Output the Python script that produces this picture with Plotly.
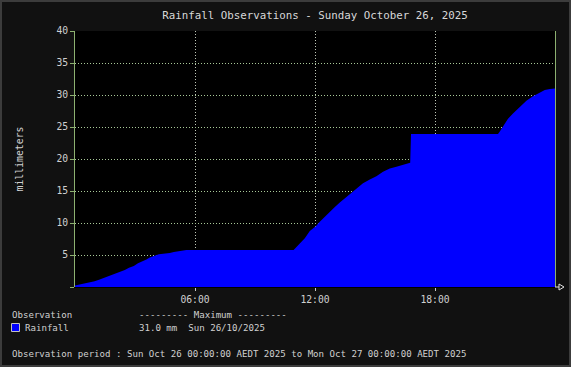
import plotly.graph_objects as go
from datetime import datetime, timedelta

# Data (hours since midnight, cumulative mm)
hours = [0.0, 0.23, 0.49, 0.73, 0.98, 1.2, 1.57, 1.95, 2.24, 2.49, 2.7, 2.94,
         3.15, 3.37, 3.57, 3.74, 3.99, 4.19, 4.74, 4.94, 5.57, 10.93, 11.24,
         11.49, 11.74, 12.04, 12.24, 12.49, 12.74, 12.98, 13.24, 13.49, 13.74,
         14.07, 14.4, 14.74, 15.07, 15.4, 15.74, 16.07, 16.4, 16.76, 16.8,
         21.15, 21.24, 21.4, 21.65, 21.9, 22.24, 22.57, 22.9, 23.24, 23.49,
         23.74, 24.0]
rain_mm = [0.25, 0.4, 0.6, 0.7, 0.9, 1.15, 1.56, 2.0, 2.34, 2.66, 3.0, 3.3,
           3.7, 3.95, 4.3, 4.6, 4.85, 5.1, 5.3, 5.45, 5.8, 5.8, 6.8,
           7.6, 8.75, 9.5, 10.2, 11.0, 11.7, 12.45, 13.2, 13.85, 14.5,
           15.4, 16.2, 16.8, 17.3, 18.0, 18.5, 18.8, 19.1, 19.4, 23.9,
           23.9, 24.3, 25.05, 26.3, 27.1, 28.2, 29.1, 29.8, 30.4, 30.8,
           30.95, 31.0]
y_ticks = [0, 5, 10, 15, 20, 25, 30, 35, 40]
y_tick_labels = ["", "5", "10", "15", "20", "25", "30", "35", "40"]
x_tick_labels = ["06:00", "12:00", "18:00"]
title_text = "Rainfall Observations - Sunday October 26, 2025"
series_name = "Rainfall"
max_text = "31.0 mm  Sun 26/10/2025"
period_text = "Observation period : Sun Oct 26 00:00:00 AEDT 2025 to Mon Oct 27 00:00:00 AEDT 2025"

start = datetime(2025, 10, 26, 0, 0)
times = [start + timedelta(hours=h) for h in hours]
x_tick_vals = [start + timedelta(hours=6 * (i + 1)) for i in range(3)]

W, H = 571, 367
L, R, T, B = 75, 16, 31, 80
PW, PH = W - L - R, H - T - B
FONT = "DejaVu Sans Mono"
TXT = "#d0d0d0"


def px(x):
    return (x - L) / PW


def py(y):
    return (H - B - y) / PH


fig = go.Figure()
fig.add_trace(go.Scatter(
    x=times, y=rain_mm, mode="lines", fill="tozeroy",
    line=dict(color="#0000ff", width=0), fillcolor="#0000ff",
    name=series_name, showlegend=False, hoverinfo="x+y",
))

fig.update_layout(
    width=W, height=H, autosize=False,
    margin=dict(l=L, r=R, t=T, b=B, pad=0),
    paper_bgcolor="#111111", plot_bgcolor="#000000",
    font=dict(family=FONT, color=TXT, size=9.7),
    title=dict(text=title_text, x=0.5, xref="paper", xanchor="center",
               y=1 - 15 / H, yref="container", yanchor="middle",
               font=dict(family=FONT, size=10.8, color="#d8d8d8")),
    showlegend=False,
)

fig.update_xaxes(
    range=[start, start + timedelta(hours=24)],
    tickvals=x_tick_vals, ticktext=x_tick_labels,
    showgrid=True, gridcolor="#c0c8b8", griddash="1px,2px", gridwidth=1,
    ticks="outside", ticklen=3, tickcolor="#c8c8c8", tickwidth=1,
    showline=True, linecolor="#000000", linewidth=1,
    zeroline=False, tickfont=dict(size=9.7, color=TXT, family=FONT),
    fixedrange=True,
)
fig.update_yaxes(
    range=[0, 40], tickvals=y_ticks, ticktext=y_tick_labels,
    showgrid=True, gridcolor="#a8c898", griddash="1px,2px", gridwidth=1,
    ticks="outside", ticklen=4, tickcolor="#8cb070", tickwidth=1,
    showline=True, linecolor="#8cb070", linewidth=1, mirror=True,
    zeroline=False, tickfont=dict(size=9.7, color=TXT, family=FONT),
    title=dict(text="millimeters", standoff=30,
               font=dict(size=9.8, color=TXT, family=FONT)),
    fixedrange=True,
)

shapes = [
    # outer frame
    dict(type="rect", xref="paper", yref="paper",
         x0=px(1), x1=px(W - 1), y0=py(H - 1), y1=py(1),
         line=dict(color="#3c3c3c", width=2), layer="below"),
    # arrow at end of x axis
    dict(type="line", xref="paper", yref="paper",
         x0=px(555), x1=px(559), y0=py(287), y1=py(287),
         line=dict(color="#e0e0e0", width=1)),
    dict(type="path", xref="paper", yref="paper",
         path=f"M {px(559)} {py(284)} L {px(564)} {py(287)} L {px(559)} {py(290)} Z",
         line=dict(color="#e0e0e0", width=1), fillcolor="rgba(0,0,0,0)"),
    # legend colour box
    dict(type="rect", xref="paper", yref="paper",
         x0=px(11.5), x1=px(19.5), y0=py(331.5), y1=py(323.5),
         line=dict(color="#c0c0c0", width=1), fillcolor="#0000ff"),
]
fig.update_layout(shapes=shapes)


def label(text, x, y):
    return dict(text=text, xref="paper", yref="paper", x=px(x), y=py(y),
                xanchor="left", yanchor="middle", showarrow=False,
                font=dict(family=FONT, size=9.1, color=TXT))


fig.update_layout(annotations=[
    label("Observation", 10, 315),
    label("--------- Maximum ---------", 137, 315),
    label(series_name, 23, 327.5),
    label(max_text, 137, 327.5),
    label(period_text, 10, 353.5),
])

fig.write_html(
    "out.html",
    config={"displayModeBar": False, "staticPlot": False},
    post_script="document.body.style.margin='0';document.body.style.overflow='hidden';",
)
